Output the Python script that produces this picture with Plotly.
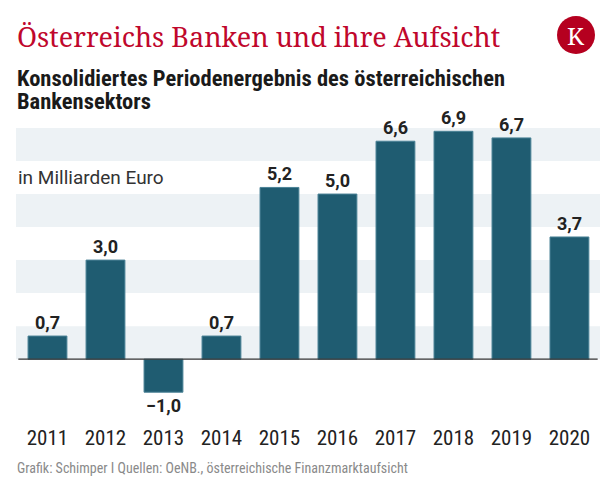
import plotly.graph_objects as go

years = ["2011", "2012", "2013", "2014", "2015", "2016", "2017", "2018", "2019", "2020"]
values = [0.7, 3.0, -1.0, 0.7, 5.2, 5.0, 6.6, 6.9, 6.7, 3.7]
band_ranges = [(0, 1), (2, 3), (4, 5), (6, 7)]

labels = [f"{v:.1f}".replace(".", ",").replace("-", "\u2212") for v in values]

COND = "Roboto Condensed, Liberation Sans Narrow, DejaVu Sans Condensed, Roboto, sans-serif"
BAR = "#1f5c71"

fig = go.Figure()
fig.add_trace(go.Bar(
    x=list(range(len(years))), y=values,
    marker=dict(color=BAR, line=dict(color="#4a8296", width=1)),
    text=labels, textposition="outside",
    textfont=dict(family="Roboto, sans-serif", size=18, color="#222222", weight="bold"),
    cliponaxis=False, width=0.67, hoverinfo="skip",
))

shapes = []
for a, b in band_ranges:
    shapes.append(dict(type="rect", xref="paper", yref="y", x0=0, x1=1, y0=a, y1=b,
                       fillcolor="#edf2f5", line=dict(width=0), layer="below"))
shapes.append(dict(type="line", xref="paper", yref="y", x0=0.004, x1=0.996, y0=0, y1=0,
                   line=dict(color="#333333", width=1.2)))
shapes.append(dict(type="circle", xref="paper", yref="paper", xsizemode="pixel", ysizemode="pixel",
                   xanchor=(576 - 16) / 584, yanchor=1 + (128 - 35) / 284,
                   x0=-19, x1=19, y0=-19, y1=19,
                   fillcolor="#b5001f", line=dict(width=0)))

fig.update_layout(
    width=616, height=494,
    margin=dict(l=16, r=16, t=128, b=82),
    paper_bgcolor="white", plot_bgcolor="white",
    showlegend=False,
    bargap=0.33,
    shapes=shapes,
    xaxis=dict(range=[-0.543, 9.527], tickmode="array", tickvals=list(range(len(years))),
               ticktext=years, showgrid=False, zeroline=False, showline=False,
               ticks="outside", ticklen=7, tickcolor="rgba(0,0,0,0)",
               tickfont=dict(family=COND, size=21, color="#222222")),
    yaxis=dict(range=[-1.6, 7.0], showgrid=False, zeroline=False, showticklabels=False,
               showline=False),
)

annotations = [
    dict(text="Österreichs Banken und ihre Aufsicht", x=15, y=494 - 36, yanchor="middle",
         font=dict(family="Noto Serif, DejaVu Serif, Liberation Serif, serif", size=27, color="#c0072c")),
    dict(text="<b>Konsolidiertes Periodenergebnis des österreichischen</b>", x=15, y=494 - 78, yanchor="middle",
         font=dict(family=COND, size=22.5, color="#1a1a1a")),
    dict(text="<b>Bankensektors</b>", x=15, y=494 - 101, yanchor="middle",
         font=dict(family=COND, size=22.5, color="#1a1a1a")),
    dict(text="in Milliarden Euro", x=16, y=494 - 177, yanchor="middle",
         font=dict(family="Roboto, sans-serif", size=19, color="#333333")),
    dict(text="Grafik: Schimper I Quellen: OeNB., österreichische Finanzmarktaufsicht", x=15, y=494 - 468,
         yanchor="middle", font=dict(family=COND, size=14, color="#8a8a8a")),
    dict(text="K", x=576, y=494 - 35, xanchor="center", yanchor="middle",
         font=dict(family="Noto Serif, DejaVu Serif, serif", size=24, color="white")),
]
ann_objs = []
for a in annotations:
    d = dict(xref="paper", yref="paper", showarrow=False, xanchor=a.get("xanchor", "left"),
             yanchor=a.get("yanchor", "bottom"), align="left")
    d.update(a)
    d["x"] = (d["x"] - 16) / 584
    d["y"] = (d["y"] - 82) / 284
    ann_objs.append(d)
fig.update_layout(annotations=ann_objs)

fig.write_html("out.html", config={"displayModeBar": False},
               post_script="document.body.style.margin='0';document.body.style.padding='0';")
